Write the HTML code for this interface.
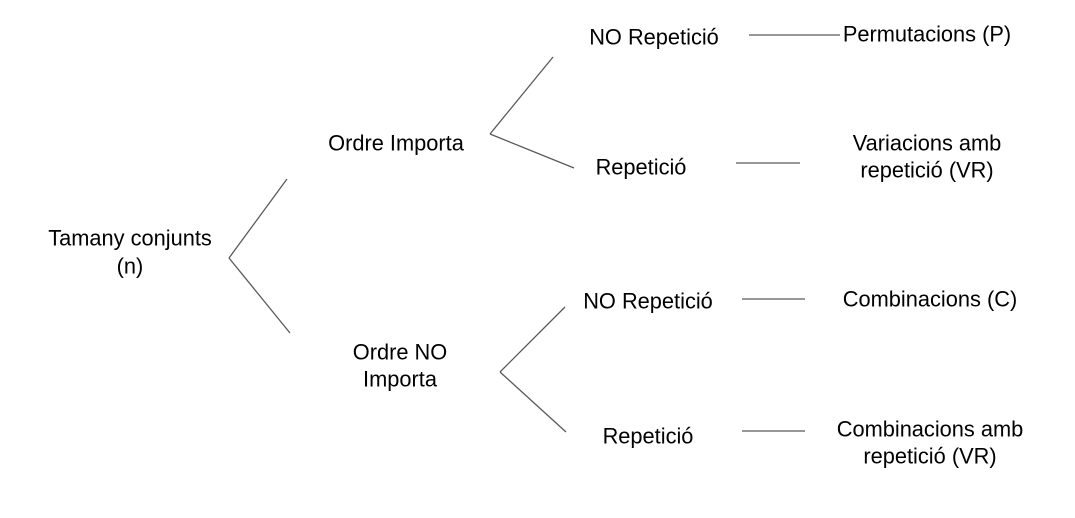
<!DOCTYPE html>
<html><head><meta charset="utf-8"><style>
html,body{margin:0;padding:0;background:#fff;width:1075px;height:518px;overflow:hidden}
text{font-family:"Liberation Sans",Arial,sans-serif;font-size:21.8px;fill:#000;text-anchor:middle;dominant-baseline:central}
line{stroke:#595959;stroke-width:1.3}
</style></head><body>
<svg width="1075" height="518" xmlns="http://www.w3.org/2000/svg">
<line x1="229" y1="258" x2="287" y2="179"/>
<line x1="229" y1="258" x2="290" y2="333"/>
<line x1="490" y1="134" x2="553" y2="57"/>
<line x1="490" y1="134" x2="574" y2="168"/>
<line x1="500" y1="372" x2="565" y2="307"/>
<line x1="500" y1="372" x2="566" y2="432"/>
<line x1="749" y1="35" x2="840" y2="35"/>
<line x1="736" y1="163" x2="800" y2="163"/>
<line x1="742" y1="299" x2="805" y2="299"/>
<line x1="742" y1="431" x2="805" y2="431"/>
<text x="130" y="238">Tamany conjunts</text>
<text x="130" y="266">(n)</text>
<text x="396" y="143">Ordre Importa</text>
<text x="400" y="352">Ordre NO</text>
<text x="400" y="379">Importa</text>
<text x="654" y="37">NO Repetició</text>
<text x="641" y="167">Repetició</text>
<text x="648" y="301">NO Repetició</text>
<text x="648" y="436">Repetició</text>
<text x="927" y="34">Permutacions (P)</text>
<text x="927" y="143">Variacions amb</text>
<text x="927" y="170">repetició (VR)</text>
<text x="930" y="299">Combinacions (C)</text>
<text x="930" y="429">Combinacions amb</text>
<text x="930" y="456">repetició (VR)</text>
</svg>
</body></html>
